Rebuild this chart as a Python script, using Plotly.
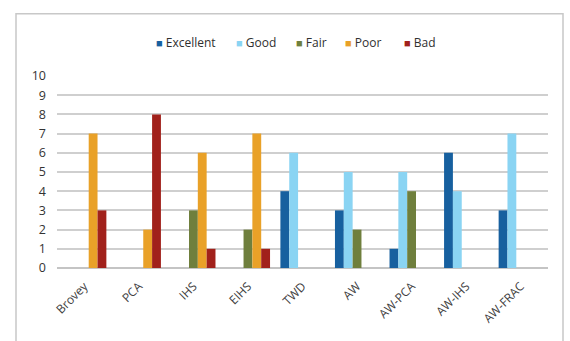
import plotly.graph_objects as go

categories = ["Brovey", "PCA", "IHS", "EIHS", "TWD", "AW", "AW-PCA", "AW-IHS", "AW-FRAC"]
excellent = [0, 0, 0, 0, 4, 3, 1, 6, 3]
good = [0, 0, 0, 0, 6, 5, 5, 4, 7]
fair = [0, 0, 3, 2, 0, 2, 4, 0, 0]
poor = [7, 2, 6, 7, 0, 0, 0, 0, 0]
bad = [3, 8, 1, 1, 0, 0, 0, 0, 0]
y_ticks = list(range(0, 11))
series_names = ["Excellent", "Good", "Fair", "Poor", "Bad"]
series_values = [excellent, good, fair, poor, bad]
series_colors = ["#17609f", "#8ad4f3", "#6f7f3d", "#e9a128", "#a1211b"]

fig = go.Figure()
for name, vals, col in zip(series_names, series_values, series_colors):
    fig.add_trace(go.Bar(x=categories, y=vals, name=name, showlegend=False,
                         marker=dict(color=col, line=dict(width=0))))

W, H = 570, 341
L, R, T, B = 57, 22, 75.5, 73
pw, ph = W - L - R, H - T - B

def px_x(p):
    return (p - L) / pw

def px_y(p):
    return (H - B - p) / ph

# legend drawn as text items (small square marker + label)
legend_x = [154, 234, 294, 343, 402]
annotations = []
for name, col, lx in zip(series_names, series_colors, legend_x):
    annotations.append(dict(
        xref="paper", yref="paper", x=px_x(lx), y=px_y(42), xanchor="left", yanchor="middle",
        showarrow=False,
        text=f"<span style='color:{col};font-size:11px'>■</span> {name}",
        font=dict(family="Open Sans", size=12, color="#303030")))

fig.update_layout(
    width=W, height=H,
    margin=dict(l=L, r=R, t=T, b=B),
    paper_bgcolor="white", plot_bgcolor="white",
    barmode="group", bargap=0.19, bargroupgap=0,
    font=dict(family="Open Sans", size=12, color="#404040"),
    showlegend=False,
    annotations=annotations,
    xaxis=dict(tickangle=-45, showgrid=False, showline=False, ticks="", tickfont=dict(size=12),
               ticklabelstandoff=8),
    yaxis=dict(range=[0, 10], tickvals=y_ticks, showgrid=True, gridcolor="#cfcfcf", gridwidth=2,
               zeroline=True, zerolinecolor="#c4c4c4", zerolinewidth=2, ticks="", showline=False,
               tickfont=dict(size=12.5, color="#333333"), ticklabelstandoff=10),
    shapes=[dict(type="rect", xref="paper", yref="paper",
                 x0=px_x(16), x1=px_x(563), y0=px_y(345), y1=px_y(13),
                 line=dict(color="#c8c8c8", width=1.5), fillcolor="rgba(0,0,0,0)", layer="below")],
)

fig.write_html("out.html")
